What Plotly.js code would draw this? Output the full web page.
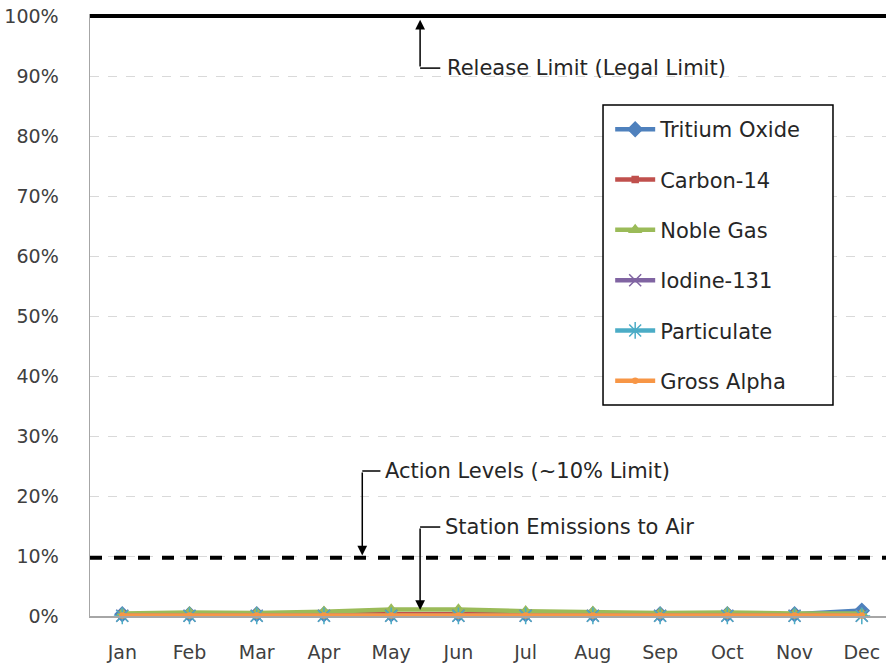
<!DOCTYPE html>
<html>
<head>
<meta charset="utf-8">
<script src="https://cdn.plot.ly/plotly-3.0.1.min.js"></script>
<style>html,body{margin:0;padding:0;background:#fff;}#chart{width:886px;height:665px;}</style>
</head>
<body>
<div id="chart"></div>
<script>
const months = ["Jan","Feb","Mar","Apr","May","Jun","Jul","Aug","Sep","Oct","Nov","Dec"];
const tritiumOxide = [0.3,0.3,0.3,0.3,0.3,0.3,0.3,0.3,0.3,0.3,0.3,0.9];
const carbon14     = [0.3,0.3,0.3,0.3,0.3,0.3,0.3,0.3,0.3,0.3,0.3,0.3];
const nobleGas     = [0.4,0.6,0.5,0.7,1.1,1.1,0.8,0.7,0.5,0.6,0.4,0.4];
const iodine131    = [0.05,0.05,0.05,0.05,0.05,0.05,0.05,0.05,0.05,0.05,0.05,0.05];
const particulate  = [0.02,0.02,0.02,0.02,0.02,0.02,0.02,0.02,0.02,0.02,0.02,0.02];
const grossAlpha   = [0.1,0.1,0.1,0.1,0.1,0.1,0.1,0.1,0.1,0.1,0.1,0.1];
const releaseLimit = 100;
const actionLevel = 9.7;
const yTicks = [0,10,20,30,40,50,60,70,80,90,100];
const yTickText = yTicks.map(v => v + "%");

const FONT = "DejaVu Sans";
const series = [
  {name:"Tritium Oxide", y:tritiumOxide, color:"#4F81BD", symbol:"diamond", size:11},
  {name:"Carbon-14", y:carbon14, color:"#C0504D", symbol:"square", size:6},
  {name:"Noble Gas", y:nobleGas, color:"#9BBB59", symbol:"triangle-up", size:10},
  {name:"Iodine-131", y:iodine131, color:"#8064A2", symbol:"x-thin-open", size:12},
  {name:"Particulate", y:particulate, color:"#4BACC6", symbol:"asterisk-open", size:14},
  {name:"Gross Alpha", y:grossAlpha, color:"#F79646", symbol:"circle", size:5}
];
const traces = series.map((s,i) => ({
  type:"scatter", mode:"lines+markers", x:months, y:s.y, name:s.name,
  legendgroup:"g"+i,
  line:{color:s.color, width:4.5},
  marker:{color:s.color, symbol:s.symbol, size:s.size, line:{color:s.color, width:1.5}},
  cliponaxis:false
}));

const annFont = {family:FONT, size:21, color:"#262626"};
const layout = {
  width:886, height:665,
  margin:{l:90, r:0, t:14, b:49},
  paper_bgcolor:"#fff", plot_bgcolor:"#fff",
  font:{family:FONT, size:19, color:"#404040"},
  showlegend:true,
  legend:{x:0.6535, y:0.842, xanchor:"left", yanchor:"top",
    bgcolor:"rgba(0,0,0,0)", borderwidth:0,
    font:{family:FONT, size:21, color:"#262626"},
    tracegroupgap:20, traceorder:"grouped", itemwidth:40},
  xaxis:{type:"category", range:[-0.48, 11.36], showgrid:false, zeroline:false,
    showline:true, linecolor:"#A6A6A6", linewidth:1.5, ticks:"", ticklabelstandoff:19,
    tickfont:{family:FONT, size:19, color:"#404040"}},
  yaxis:{range:[0, 100.35], tickvals:yTicks, ticktext:yTickText, showgrid:true,
    gridcolor:"#D9D9D9", griddash:"dash", gridwidth:1, zeroline:false,
    showline:true, linecolor:"#A6A6A6", linewidth:1.5, ticks:"", ticklabelstandoff:26,
    tickfont:{family:FONT, size:19, color:"#404040"}},
  shapes:[
    {type:"rect", xref:"paper", yref:"paper", x0:0.6445, x1:0.9334, y0:0.3505, y1:0.849,
      fillcolor:"#fff", line:{color:"#000", width:1.5}, layer:"above"},
    {type:"line", xref:"paper", yref:"y", x0:0, x1:1, y0:releaseLimit, y1:releaseLimit,
      line:{color:"#000", width:4}, layer:"above"},
    {type:"line", xref:"paper", yref:"y", x0:0, x1:1, y0:actionLevel, y1:actionLevel,
      line:{color:"#000", width:4, dash:"dash"}, layer:"above"},
    {type:"line", xref:"x", yref:"y", x0:4.43, x1:4.73, y0:91.33, y1:91.33, line:{color:"#000", width:1.5}},
    {type:"line", xref:"x", yref:"y", x0:3.57, x1:3.84, y0:24.17, y1:24.17, line:{color:"#000", width:1.5}},
    {type:"line", xref:"x", yref:"y", x0:4.43, x1:4.73, y0:14.83, y1:14.83, line:{color:"#000", width:1.5}}
  ],
  annotations:[
    {xref:"x", yref:"y", x:4.43, y:99.4, ax:4.43, ay:91.33, axref:"x", ayref:"y", text:"",
      showarrow:true, arrowhead:2, arrowsize:1.3, arrowwidth:1.5, arrowcolor:"#000"},
    {xref:"x", yref:"y", x:3.57, y:10.1, ax:3.57, ay:24.17, axref:"x", ayref:"y", text:"",
      showarrow:true, arrowhead:2, arrowsize:1.3, arrowwidth:1.5, arrowcolor:"#000"},
    {xref:"x", yref:"y", x:4.43, y:1.0, ax:4.43, ay:14.83, axref:"x", ayref:"y", text:"",
      showarrow:true, arrowhead:2, arrowsize:1.3, arrowwidth:1.5, arrowcolor:"#000"},
    {xref:"x", yref:"y", x:4.8, y:91.33, xanchor:"left", yanchor:"middle", showarrow:false,
      text:"Release Limit (Legal Limit)", font:annFont},
    {xref:"x", yref:"y", x:3.88, y:24.17, xanchor:"left", yanchor:"middle", showarrow:false,
      text:"Action Levels (~10% Limit)", font:annFont},
    {xref:"x", yref:"y", x:4.77, y:14.83, xanchor:"left", yanchor:"middle", showarrow:false,
      text:"Station Emissions to Air", font:annFont}
  ]
};
Plotly.newPlot("chart", traces, layout, {displayModeBar:false, staticPlot:true});
</script>
</body>
</html>
